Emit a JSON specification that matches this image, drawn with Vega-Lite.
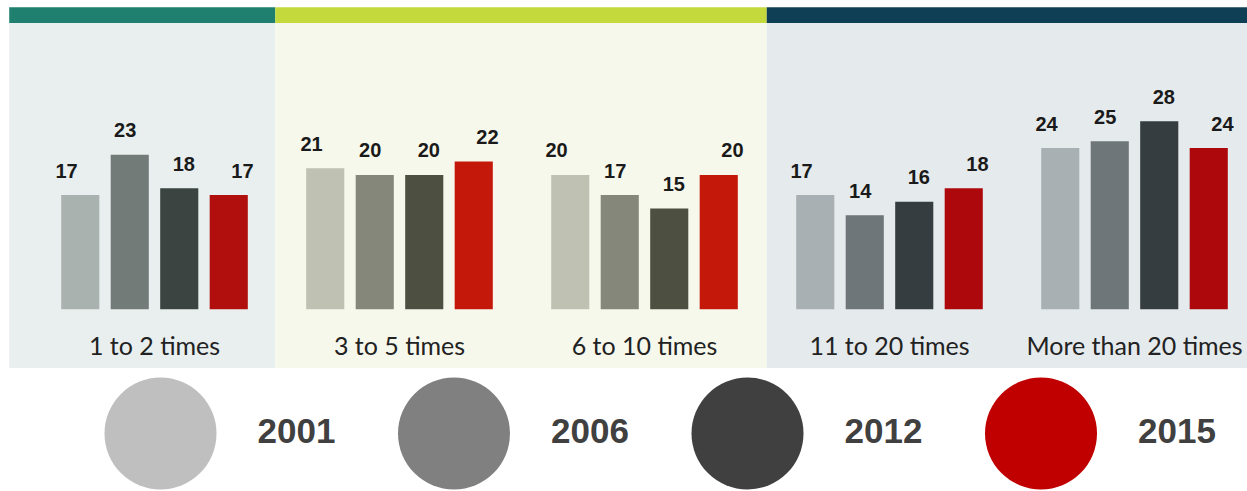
{
  "$schema": "https://vega.github.io/schema/vega-lite/v6.json",
  "padding": 0,
  "background": "#ffffff",
  "spacing": 0,
  "config": {"view": {"stroke": null}, "concat": {"spacing": 0}},
  "datasets": {
    "panels": [
      {"panel": "p1", "from": -0.593, "to": 0.493},
      {"panel": "p2", "from": 0.493, "to": 2.499},
      {"panel": "p3", "from": 2.499, "to": 4.5}
    ],
    "bars": [
      {"group": "1 to 2 times", "panel": "p1", "year": "2001", "value": 17},
      {"group": "1 to 2 times", "panel": "p1", "year": "2006", "value": 23},
      {"group": "1 to 2 times", "panel": "p1", "year": "2012", "value": 18},
      {"group": "1 to 2 times", "panel": "p1", "year": "2015", "value": 17},
      {"group": "3 to 5 times", "panel": "p2", "year": "2001", "value": 21},
      {"group": "3 to 5 times", "panel": "p2", "year": "2006", "value": 20},
      {"group": "3 to 5 times", "panel": "p2", "year": "2012", "value": 20},
      {"group": "3 to 5 times", "panel": "p2", "year": "2015", "value": 22},
      {"group": "6 to 10 times", "panel": "p2", "year": "2001", "value": 20},
      {"group": "6 to 10 times", "panel": "p2", "year": "2006", "value": 17},
      {"group": "6 to 10 times", "panel": "p2", "year": "2012", "value": 15},
      {"group": "6 to 10 times", "panel": "p2", "year": "2015", "value": 20},
      {"group": "11 to 20 times", "panel": "p3", "year": "2001", "value": 17},
      {"group": "11 to 20 times", "panel": "p3", "year": "2006", "value": 14},
      {"group": "11 to 20 times", "panel": "p3", "year": "2012", "value": 16},
      {"group": "11 to 20 times", "panel": "p3", "year": "2015", "value": 18},
      {"group": "More than 20 times", "panel": "p3", "year": "2001", "value": 24},
      {"group": "More than 20 times", "panel": "p3", "year": "2006", "value": 25},
      {"group": "More than 20 times", "panel": "p3", "year": "2012", "value": 28},
      {"group": "More than 20 times", "panel": "p3", "year": "2015", "value": 24}
    ],
    "groups": [
      {"group": "1 to 2 times"},
      {"group": "3 to 5 times"},
      {"group": "6 to 10 times"},
      {"group": "11 to 20 times"},
      {"group": "More than 20 times"}
    ],
    "years": [
      {"year": "2001"}, {"year": "2006"}, {"year": "2012"}, {"year": "2015"}
    ]
  },
  "vconcat": [
    {
      "width": 1247,
      "height": 376,
      "resolve": {"scale": {"x": "independent", "xOffset": "independent", "color": "independent"}},
      "layer": [
        {
          "data": {"name": "panels"},
          "mark": {"type": "rect", "clip": true},
          "encoding": {
            "x": {"field": "from", "type": "quantitative", "scale": {"domain": [0, 4], "range": [154.5, 1134.5], "zero": false, "nice": false}, "axis": null},
            "x2": {"field": "to"},
            "y": {"datum": 42.6, "type": "quantitative", "scale": {"domain": [-9.93, 46.03], "zero": false, "nice": false}, "axis": null},
            "y2": {"datum": -8.74},
            "color": {"field": "panel", "type": "nominal", "scale": {"domain": ["p1", "p2", "p3"], "range": ["#e8efee", "#f7f8ec", "#e5eaec"]}, "legend": null}
          }
        },
        {
          "data": {"name": "panels"},
          "mark": {"type": "rect", "clip": true},
          "encoding": {
            "x": {"field": "from", "type": "quantitative", "scale": {"domain": [0, 4], "range": [154.5, 1134.5], "zero": false, "nice": false}, "axis": null},
            "x2": {"field": "to"},
            "y": {"datum": 44.94, "type": "quantitative", "scale": {"domain": [-9.93, 46.03], "zero": false, "nice": false}, "axis": null},
            "y2": {"datum": 42.6},
            "color": {"field": "panel", "type": "nominal", "scale": {"domain": ["p1", "p2", "p3"], "range": ["#1f8070", "#c3d93c", "#0f3f55"]}, "legend": null}
          }
        },
        {
          "data": {"name": "bars"},
          "transform": [{"filter": "datum.panel === 'p1'"}],
          "mark": {"type": "bar"},
          "encoding": {
            "x": {"field": "group", "type": "nominal", "sort": null, "scale": {"domain": ["1 to 2 times", "3 to 5 times", "6 to 10 times", "11 to 20 times", "More than 20 times"], "range": [32, 1257], "paddingInner": 0, "paddingOuter": 0}, "axis": null},
            "xOffset": {"field": "year", "type": "nominal", "scale": {"domain": ["2001", "2006", "2012", "2015"], "paddingInner": 0.23, "paddingOuter": 0.59}},
            "y": {"field": "value", "type": "quantitative", "scale": {"domain": [-9.93, 46.03], "zero": false, "nice": false}, "axis": null},
            "y2": {"datum": 0},
            "color": {"field": "year", "type": "nominal", "scale": {"domain": ["2001", "2006", "2012", "2015"], "range": ["#aab2b0", "#737b79", "#3c4441", "#b00f0e"]}, "legend": null}
          }
        },
        {
          "data": {"name": "bars"},
          "transform": [{"filter": "datum.panel === 'p2'"}],
          "mark": {"type": "bar"},
          "encoding": {
            "x": {"field": "group", "type": "nominal", "sort": null, "scale": {"domain": ["1 to 2 times", "3 to 5 times", "6 to 10 times", "11 to 20 times", "More than 20 times"], "range": [32, 1257], "paddingInner": 0, "paddingOuter": 0}, "axis": null},
            "xOffset": {"field": "year", "type": "nominal", "scale": {"domain": ["2001", "2006", "2012", "2015"], "paddingInner": 0.23, "paddingOuter": 0.59}},
            "y": {"field": "value", "type": "quantitative", "scale": {"domain": [-9.93, 46.03], "zero": false, "nice": false}, "axis": null},
            "y2": {"datum": 0},
            "color": {"field": "year", "type": "nominal", "scale": {"domain": ["2001", "2006", "2012", "2015"], "range": ["#bfc1b3", "#85877a", "#4d4f40", "#c4180a"]}, "legend": null}
          }
        },
        {
          "data": {"name": "bars"},
          "transform": [{"filter": "datum.panel === 'p3'"}],
          "mark": {"type": "bar"},
          "encoding": {
            "x": {"field": "group", "type": "nominal", "sort": null, "scale": {"domain": ["1 to 2 times", "3 to 5 times", "6 to 10 times", "11 to 20 times", "More than 20 times"], "range": [32, 1257], "paddingInner": 0, "paddingOuter": 0}, "axis": null},
            "xOffset": {"field": "year", "type": "nominal", "scale": {"domain": ["2001", "2006", "2012", "2015"], "paddingInner": 0.23, "paddingOuter": 0.59}},
            "y": {"field": "value", "type": "quantitative", "scale": {"domain": [-9.93, 46.03], "zero": false, "nice": false}, "axis": null},
            "y2": {"datum": 0},
            "color": {"field": "year", "type": "nominal", "scale": {"domain": ["2001", "2006", "2012", "2015"], "range": ["#a9b0b3", "#6e7679", "#363d40", "#ad090c"]}, "legend": null}
          }
        },
        {
          "data": {"name": "bars"},
          "mark": {"type": "text", "font": "Liberation Sans", "fontWeight": "bold", "fontSize": 20, "color": "#1a1a1a", "baseline": "alphabetic", "dy": -17.5},
          "encoding": {
            "x": {"field": "group", "type": "nominal", "sort": null, "scale": {"domain": ["1 to 2 times", "3 to 5 times", "6 to 10 times", "11 to 20 times", "More than 20 times"], "range": [32, 1257], "paddingInner": 0, "paddingOuter": 0}, "axis": null},
            "xOffset": {"field": "year", "type": "nominal", "scale": {"domain": ["2001", "2006", "2012", "2015"], "paddingInner": 0.23, "paddingOuter": 0.59}},
            "y": {"field": "value", "type": "quantitative", "scale": {"domain": [-9.93, 46.03], "zero": false, "nice": false}, "axis": null},
            "text": {"field": "value", "type": "quantitative"}
          }
        },
        {
          "data": {"name": "groups"},
          "mark": {"type": "text", "font": "Lato", "fontSize": 25, "color": "#222222", "baseline": "middle", "clip": true},
          "encoding": {
            "x": {"field": "group", "type": "nominal", "sort": null, "scale": {"domain": ["1 to 2 times", "3 to 5 times", "6 to 10 times", "11 to 20 times", "More than 20 times"], "range": [32, 1257], "paddingInner": 0, "paddingOuter": 0}, "axis": null},
            "y": {"datum": -5.6, "type": "quantitative", "scale": {"domain": [-9.93, 46.03], "zero": false, "nice": false}, "axis": null},
            "text": {"field": "group", "type": "nominal"}
          }
        }
      ]
    },
    {
      "width": 1247,
      "height": 115,
      "data": {"name": "years"},
      "layer": [
        {
          "mark": {"type": "point", "filled": true, "shape": "circle", "size": 12544, "opacity": 1, "strokeWidth": 0},
          "encoding": {
            "x": {"field": "year", "type": "nominal", "scale": {"type": "point", "domain": ["2001", "2006", "2012", "2015"], "range": [160.5, 1041], "padding": 0}, "axis": null},
            "color": {"field": "year", "type": "nominal", "scale": {"domain": ["2001", "2006", "2012", "2015"], "range": ["#bfbfbf", "#808080", "#404040", "#c00000"]}, "legend": null}
          }
        },
        {
          "mark": {"type": "text", "font": "Liberation Sans", "fontWeight": "bold", "fontSize": 35, "color": "#404040", "baseline": "middle", "dx": 136, "dy": -2},
          "encoding": {
            "x": {"field": "year", "type": "nominal", "scale": {"type": "point", "domain": ["2001", "2006", "2012", "2015"], "range": [160.5, 1041], "padding": 0}, "axis": null},
            "text": {"field": "year", "type": "nominal"}
          }
        }
      ]
    }
  ]
}
